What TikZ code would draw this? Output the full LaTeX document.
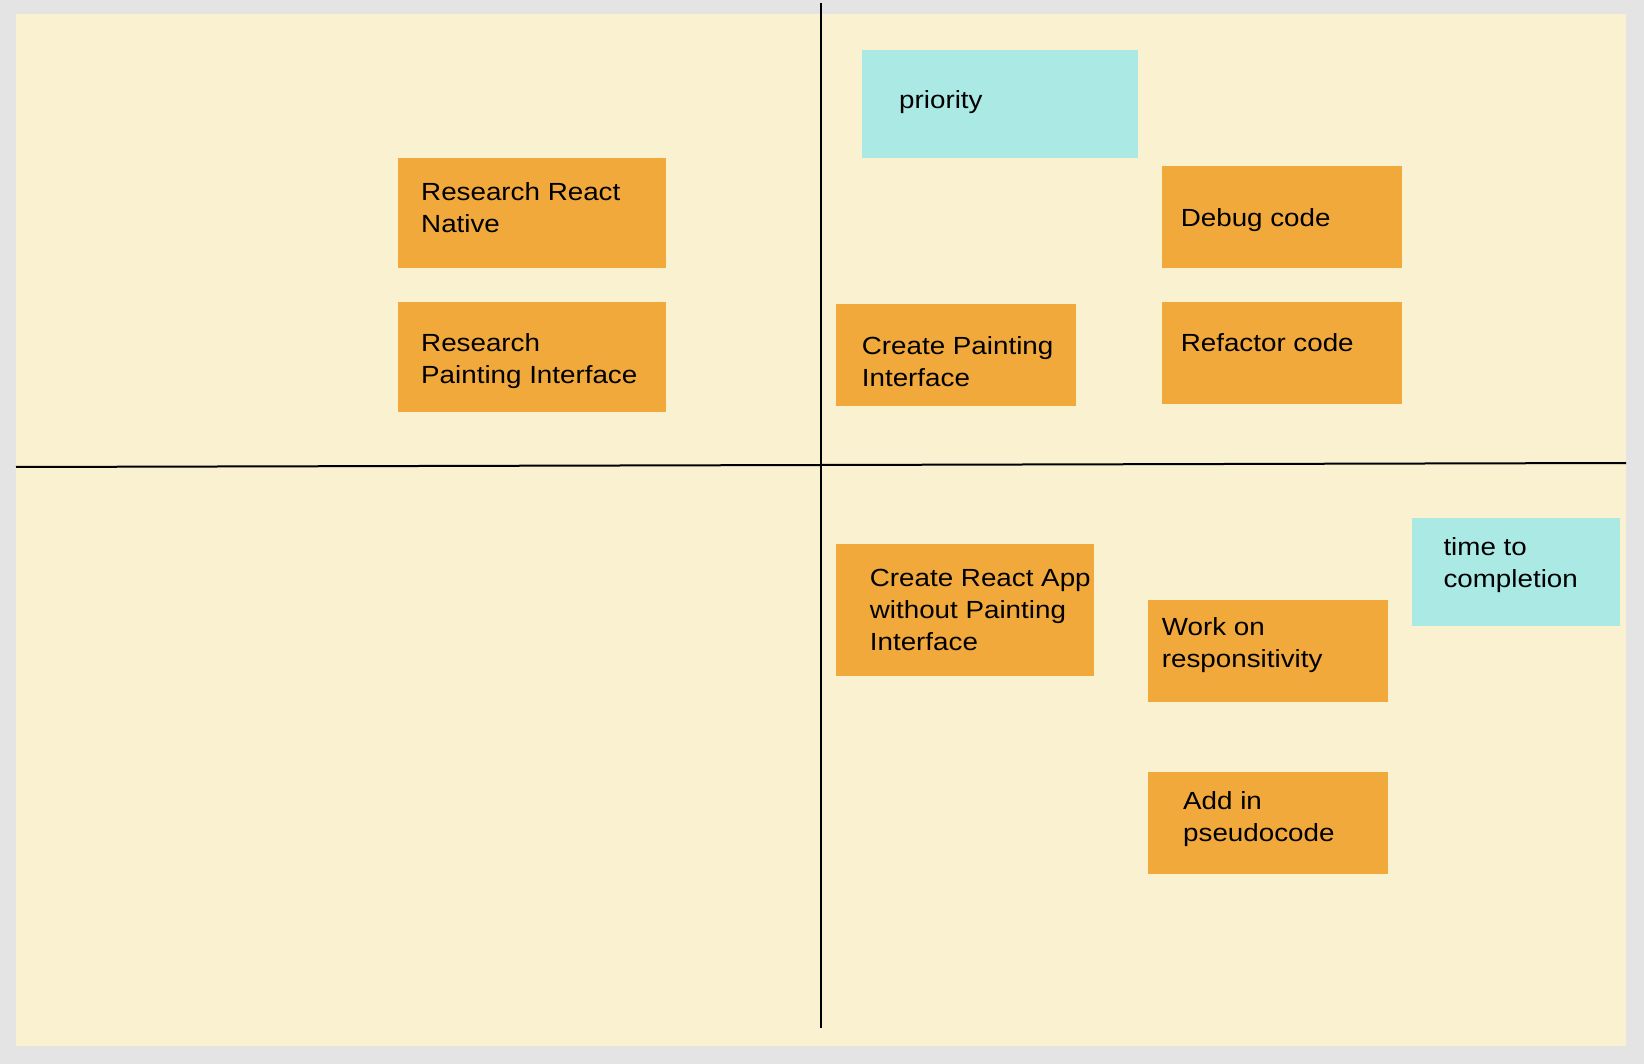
\documentclass[tikz,border=0pt]{standalone}
\usepackage{fontspec}
\setmainfont{Liberation Sans}[FakeStretch=1.12]
\usetikzlibrary{positioning}

\definecolor{frame}{RGB}{228,228,228}
\definecolor{board}{RGB}{250,241,209}
\definecolor{stickyorange}{RGB}{241,169,60}
\definecolor{stickyblue}{RGB}{171,233,229}
\newcommand{\stickyfont}{\fontsize{24.8}{32}\selectfont}

\begin{document}
\begin{tikzpicture}[x=1pt,y=-1pt]
\tikzset{ note/.style={rectangle, fill=stickyorange, anchor=north west, inner sep=0pt},
 tag/.style={note, fill=stickyblue},
 note text/.style={font=\stickyfont, align=left, inner sep=0pt}}
\useasboundingbox (0,0) rectangle (1644,1064);
\fill[frame] (0,0) rectangle (1644,1064);
\fill[board] (16,14) rectangle (1626,1046);

\coordinate (top) at (821,3);
\coordinate (bottom) at (821,1028);
\coordinate (left) at (16,467);
\coordinate (right) at (1626,463);
\draw[line width=2pt] (top) -- (bottom);
\draw[line width=2pt] (left) -- (right);

% left half
\node[note, minimum width=268pt, minimum height=110pt] (rrn) at (398,158) {};
\node[note text, below right=19.6pt and 23pt of rrn.north west] (rrn-t) {\strut Research React\\Native};
\node[note, minimum width=268pt, minimum height=110pt] (rpi) at (398,302) {};
\node[note text, below right=27.3pt and 23pt of rpi.north west] (rpi-t) {\strut Research\\Painting Interface};

% upper right
\node[tag, minimum width=276pt, minimum height=108pt] (prio) at (862,50) {};
\node[note text, below right=35.9pt and 37pt of prio.north west] (prio-t) {\strut priority};
\node[note, minimum width=240pt, minimum height=102pt] (dbg) at (1162,166) {};
\node[note text, below right=38.3pt and 18.6pt of dbg.north west] (dbg-t) {\strut Debug code};
\node[note, minimum width=240pt, minimum height=102pt] (rfc) at (1162,302) {};
\node[note text, below right=27.3pt and 18.6pt of rfc.north west] (rfc-t) {\strut Refactor code};
\node[note, minimum width=240pt, minimum height=102pt] (cpi) at (836,304) {};
\node[note text, below right=27.6pt and 25.7pt of cpi.north west] (cpi-t) {\strut Create Painting\\Interface};

% lower right
\node[note, minimum width=258pt, minimum height=132pt] (cra) at (836,544) {};
\node[note text, below right=20.3pt and 33.7pt of cra.north west] (cra-t) {\strut Create React App\\without Painting\\Interface};
\node[note, minimum width=240pt, minimum height=102pt] (wor) at (1148,600) {};
\node[note text, below right=13.3pt and 13.7pt of wor.north west] (wor-t) {\strut Work on\\responsitivity};
\node[tag, minimum width=208pt, minimum height=108pt] (ttc) at (1412,518) {};
\node[note text, below right=14.6pt and 31.3pt of ttc.north west] (ttc-t) {\strut time to\\completion};
\node[note, minimum width=240pt, minimum height=102pt] (aip) at (1148,772) {};
\node[note text, below right=14.6pt and 35pt of aip.north west] (aip-t) {\strut Add in\\pseudocode};
\end{tikzpicture}
\end{document}
